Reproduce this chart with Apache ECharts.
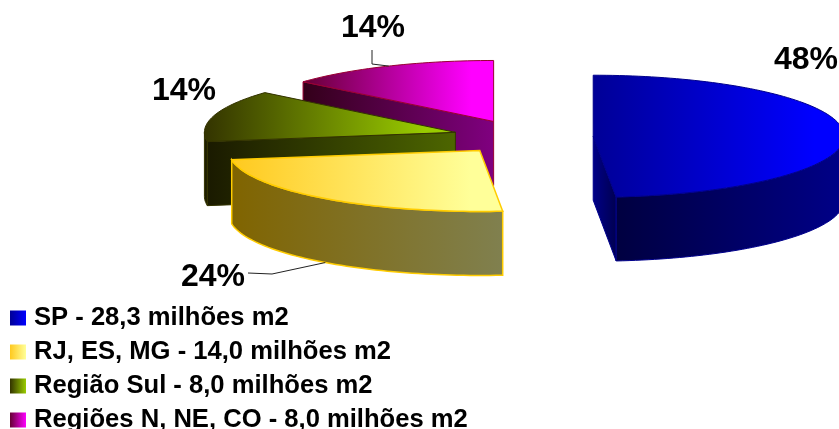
<!DOCTYPE html>
<html>
<head>
<meta charset="utf-8">
<style>html,body{margin:0;padding:0;background:#fff}#chart{width:839px;height:429px}</style>
<script src="https://cdn.jsdelivr.net/npm/echarts@6/dist/echarts.min.js"></script>
</head>
<body>
<div id="chart"></div>
<script>
// Areas per region, in millions of m2
const categories = ['SP', 'RJ, ES, MG', 'Região Sul', 'Regiões N, NE, CO'];
const areaMillions = [28.3, 14.0, 8.0, 8.0];
const percentLabels = ['48%', '24%', '14%', '14%'];

// Back-to-front painting order of the slices
const paintOrder = [3, 2, 0, 1];

// Projection of the exploded pie
const pie = { cx: 523, cy: 137, rx: 251, ry: 61, depth: 64, explode: 0.28 };

// Colours: top face, outer wall, cut wall, outline
const palette = [
  { top: ['#000096', '#0000ff'], wall: ['#000040', '#000088'], cut: ['#000088', '#000050'], line: '#00008c' },
  { top: ['#ffc91e', '#ffff99'], wall: ['#806400', '#80804f'], cut: ['#806400', '#80804f'], line: '#ffcc00' },
  { top: ['#333300', '#99cc00'], wall: ['#1a1a00', '#222200'], cut: ['#1a1a00', '#4d6600'], line: '#333300' },
  { top: ['#660033', '#ff00ff'], wall: ['#330019', '#800080'], cut: ['#330019', '#800080'], line: '#990033' }
];

// Percent label centres and their leader elbows
const labelLayout = [
  { x: 806, y: 60 },
  { x: 213, y: 277, leader: [[248, 273], [272, 274]], onRim: true },
  { x: 184, y: 91 },
  { x: 373, y: 28, leader: [[372, 50], [372, 64]] }
];

const total = areaMillions.reduce((a, b) => a + b, 0);
const rad = d => d * Math.PI / 180;
const hGrad = (c, end) => ({
  type: 'linear', x: 0, y: 0, x2: 1, y2: 0,
  colorStops: [{ offset: 0, color: c[0] }, { offset: end || 1, color: c[1] }, { offset: 1, color: c[1] }]
});
const legendName = i =>
  categories[i] + ' - ' + areaMillions[i].toFixed(1).replace('.', ',') + ' milhões m2';

function sliceAngles(i) {
  let start = 0;
  for (let k = 0; k < i; k++) start += areaMillions[k] / total * 360;
  return [start, start + areaMillions[i] / total * 360];
}

function renderSlice(i) {
  const [a0, a1] = sliceAngles(i);
  const mid = (a0 + a1) / 2;
  const ax = pie.cx + pie.explode * pie.rx * Math.sin(rad(mid));
  const ay = pie.cy - pie.explode * pie.ry * Math.cos(rad(mid));
  const rim = (a, dz) => [
    ax + pie.rx * Math.sin(rad(a)),
    ay - pie.ry * Math.cos(rad(a)) + (dz || 0)
  ];
  const arc = (from, to, dz) => {
    const pts = [];
    const n = Math.max(2, Math.ceil((to - from) / 1.5));
    for (let k = 0; k <= n; k++) pts.push(rim(from + (to - from) * k / n, dz));
    return pts;
  };
  const col = palette[i];
  const children = [];
  const poly = (points, colors, lineWidth, end) => children.push({
    type: 'polygon',
    shape: { points },
    style: { fill: hGrad(colors, end), stroke: col.line, lineWidth }
  });

  // Cut walls that face the viewer
  const cutWall = a => {
    const p = rim(a);
    poly([[ax, ay], p, [p[0], p[1] + pie.depth], [ax, ay + pie.depth]], col.cut, 1);
  };
  if (a0 > 180 && a0 < 360) cutWall(a0);
  if (a1 > 0 && a1 < 180) cutWall(a1);

  // Outer wall, only the front half of the rim shows
  const w0 = Math.max(a0, 90), w1 = Math.min(a1, 270);
  if (w1 > w0) {
    poly(arc(w0, w1, 0).concat(arc(w0, w1, pie.depth).reverse()), col.wall, i === 1 ? 1.5 : 1);
  }

  // Top face
  poly([[ax, ay]].concat(arc(a0, a1, 0)), col.top, i === 1 ? 1.5 : 1, 0.88);

  // Leader line and percent label
  const lab = labelLayout[i];
  if (lab.leader) {
    children.push({
      type: 'polyline',
      shape: { points: lab.leader.concat([rim(mid, lab.onRim ? pie.depth : 0)]) },
      style: { fill: null, stroke: '#222', lineWidth: 1 }
    });
  }
  children.push({
    type: 'text',
    x: lab.x, y: lab.y,
    style: {
      text: percentLabels[i],
      fill: '#000',
      font: 'bold 32px "Liberation Sans"',
      textAlign: 'center',
      textVerticalAlign: 'middle'
    }
  });
  return { type: 'group', children };
}

const series = paintOrder.map(i => ({
  type: 'custom',
  name: legendName(i),
  coordinateSystem: 'none',
  silent: true,
  data: [[areaMillions[i]]],
  itemStyle: { color: hGrad(palette[i].top) },
  renderItem: () => renderSlice(i)
}));

const chart = echarts.init(document.getElementById('chart'), null, { renderer: 'canvas' });
chart.setOption({
  animation: false,
  backgroundColor: '#fff',
  legend: {
    orient: 'vertical',
    left: 10,
    top: 305,
    height: 135,
    padding: 0,
    itemWidth: 16,
    itemHeight: 15,
    itemGap: 8,
    icon: 'rect',
    selectedMode: false,
    data: categories.map((c, i) => legendName(i)),
    textStyle: {
      fontFamily: 'Liberation Sans',
      fontWeight: 'bold',
      fontSize: 25.6,
      color: '#000',
      padding: [0, 0, 0, 3]
    }
  },
  series
});
</script>
</body>
</html>
